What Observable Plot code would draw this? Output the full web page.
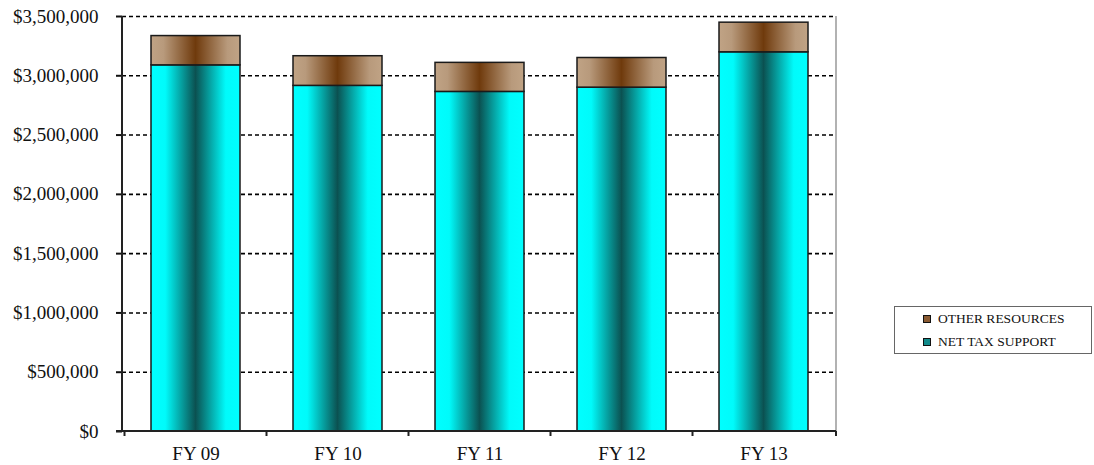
<!DOCTYPE html>
<html>
<head>
<meta charset="utf-8">
<script src="https://cdn.jsdelivr.net/npm/d3@7"></script>
<script src="https://cdn.jsdelivr.net/npm/@observablehq/plot@0.6"></script>
<style>
  body { margin: 0; background: #fff; }
  #wrap { position: relative; width: 1094px; height: 465px; }
  #wrap svg { position: absolute; left: 0; top: 0; }
  .legend {
    position: absolute; left: 894px; top: 306px; width: 198px; height: 48px;
    border: 1px solid #666; box-sizing: border-box; background: #fff;
    font-family: "Liberation Serif", "Times New Roman", serif; font-size: 13.5px; color: #111;
  }
  .legend .item { position: absolute; left: 28px; height: 16px; line-height: 16px; white-space: nowrap; }
  .legend .swatch {
    display: inline-block; width: 6px; height: 6px; border: 1px solid #111;
    vertical-align: middle; margin-right: 7px; position: relative; top: -1px;
  }
</style>
</head>
<body>
<div id="wrap"></div>
<script>
// Budget resources by fiscal year
const years = ["FY 09", "FY 10", "FY 11", "FY 12", "FY 13"];
const netTaxSupport = [3088000, 2915000, 2864000, 2900000, 3198000];
const otherResources = [247000, 250000, 245000, 250000, 250000];
const seriesNames = ["NET TAX SUPPORT", "OTHER RESOURCES"];
const yTicks = [0, 500000, 1000000, 1500000, 2000000, 2500000, 3000000, 3500000];

// long table for stacking: net tax support at the bottom, other resources on top
const rows = [];
years.forEach((year, i) => {
  rows.push({year, series: seriesNames[0], value: netTaxSupport[i]});
  rows.push({year, series: seriesNames[1], value: otherResources[i]});
});

const money = d3.format(",");

const plot = Plot.plot({
  width: 1094,
  height: 465,
  marginLeft: 122,
  marginRight: 258,
  marginTop: 16,
  marginBottom: 34,
  style: {fontFamily: '"Liberation Serif", "Times New Roman", serif', fontSize: "19px", color: "#111", background: "transparent"},
  x: {domain: years, paddingInner: 0.375, paddingOuter: 0.1875, label: null},
  y: {domain: [0, 3500000], label: null},
  color: {domain: seriesNames, range: ["url(#gradTax)", "url(#gradOther)"]},
  marks: [
    Plot.gridY(yTicks.slice(1), {stroke: "#000", strokeOpacity: 1, strokeWidth: 1.6, strokeDasharray: "4,3"}),
    Plot.barY(rows, {x: "year", y: "value", fill: "series", stroke: "#1a1a1a", strokeWidth: 1.5}),
    Plot.axisY(yTicks, {tickSize: 6, tickPadding: 18, strokeWidth: 2, tickFormat: d => "$" + money(d), fontSize: 19}),
    Plot.axisX({tickSize: 0, tickPadding: 15, fontSize: 19})
  ]
});

const svg = d3.select(plot);

// horizontal cylinder-like shading for the bars
const defs = svg.insert("defs", ":first-child");
function gradient(id, stops) {
  const g = defs.append("linearGradient").attr("id", id)
    .attr("x1", "0%").attr("x2", "100%").attr("y1", "0%").attr("y2", "0%");
  stops.forEach(([o, c]) => g.append("stop").attr("offset", o).attr("stop-color", c));
}
gradient("gradTax", [[0, "#00ffff"], [0.16, "#00fbfb"], [0.5, "#0b5151"], [0.84, "#00fbfb"], [1, "#00ffff"]]);
gradient("gradOther", [[0, "#c0a385"], [0.14, "#b89a7c"], [0.5, "#6f3a0c"], [0.86, "#b89a7c"], [1, "#c0a385"]]);

// axis lines, right frame edge and category boundary ticks
const x = plot.scale("x"), y = plot.scale("y");
const y0 = y.apply(0), yTop = y.apply(3500000);
const [left, right] = x.range;
const half = (x.step - x.bandwidth) / 2;
const bounds = years.map(d => x.apply(d) - half).concat([right]);
const g = svg.append("g");
g.append("line").attr("x1", right).attr("x2", right).attr("y1", yTop).attr("y2", y0)
  .attr("stroke", "#999").attr("stroke-width", 1.5);
g.append("line").attr("x1", left).attr("x2", left).attr("y1", yTop).attr("y2", y0)
  .attr("stroke", "#222").attr("stroke-width", 2);
g.append("line").attr("x1", left - 6).attr("x2", right).attr("y1", y0).attr("y2", y0)
  .attr("stroke", "#222").attr("stroke-width", 2);
g.selectAll("line.xt").data(bounds).join("line").attr("class", "xt")
  .attr("x1", d => d).attr("x2", d => d).attr("y1", y0).attr("y2", y0 + 5)
  .attr("stroke", "#222").attr("stroke-width", 2);

const wrap = document.getElementById("wrap");
wrap.appendChild(plot);

// legend box on the right
const legend = d3.select(wrap).append("div").attr("class", "legend");
const legendItems = [
  {label: seriesNames[1], color: "#8a5a32", top: 4},
  {label: seriesNames[0], color: "#118a8a", top: 27}
];
legendItems.forEach(it => {
  const row = legend.append("div").attr("class", "item").style("top", it.top + "px");
  row.append("span").attr("class", "swatch").style("background", it.color);
  row.append("span").text(it.label);
});
</script>
</body>
</html>
